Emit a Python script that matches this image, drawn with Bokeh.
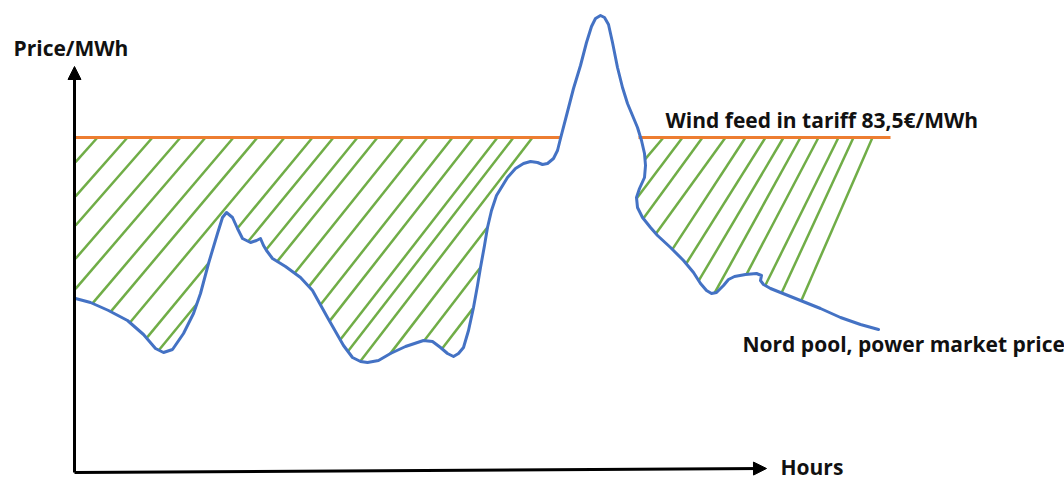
import numpy as np
from bokeh.plotting import figure
from bokeh.models import Range1d, Arrow, NormalHead, Label
from bokeh.embed import file_html
from bokeh.resources import INLINE

# ---------------- data (schematic, arbitrary hour units, €/MWh) ----------------
hours = [0, 15, 33, 52, 68, 80, 88, 97, 108, 118, 125, 133, 142, 147, 151, 157, 162, 167,
         175, 181, 185, 188, 191, 197, 210, 225, 237, 252, 268, 277, 285, 292, 303, 315,
         330, 348, 357, 365, 372, 378, 383, 388, 393, 398, 402, 405, 409, 412, 416, 421,
         432, 440, 448, 455, 462, 467, 472, 478, 482, 485, 491, 498, 505, 511, 516, 520,
         525, 529, 533, 537, 542, 547, 552, 557, 562, 566, 569, 570, 569, 564, 561, 562,
         567, 575, 582, 595, 608, 618, 625, 631, 636, 641, 648, 653, 659, 670, 681, 686,
         685, 688, 695, 710, 725, 745, 765, 785, 803]
price = [43.25, 42.25, 40.25, 37.75, 34.25, 30.75, 29.75, 30.5, 34.5, 39.5, 44.5, 52.0,
         59.5, 63.5, 64.75, 63.5, 60.75, 58.25, 57.25, 57.75, 58.25, 56.5, 55.25, 53.25,
         51.25, 48.5, 45.25, 38.5, 31.5, 28.5, 27.5, 27.25, 27.75, 29.5, 31.25, 32.75,
         32.5, 31.0, 29.5, 28.75, 29.5, 31.0, 35.25, 41.0, 46.5, 51.0, 56.5, 61.0, 65.25,
         69.0, 73.5, 75.75, 77.0, 77.5, 77.25, 76.75, 77.0, 78.25, 80.25, 83.25, 89.0,
         95.75, 101.5, 107.25, 111.25, 113.25, 114.0, 113.5, 111.75, 107.25, 101.0, 96.0,
         92.0, 89.0, 86.0, 82.75, 79.5, 76.5, 73.5, 70.75, 68.5, 66.0, 63.5, 61.0, 59.0,
         56.0, 52.75, 49.75, 47.0, 45.25, 44.5, 44.75, 46.5, 48.0, 48.75, 49.25, 49.5,
         49.0, 47.75, 46.75, 45.75, 44.25, 42.75, 40.75, 38.5, 36.75, 35.5]
TARIFF = 83.5
tariff_left_hours = [0, 485]
tariff_right_hours = [563, 815]

y_label = "Price/MWh"
x_label = "Hours"
tariff_label = "Wind feed in tariff 83,5€/MWh"
market_label = "Nord pool, power market price"

# ---------------- styles ----------------
BLUE = "#4472C4"
ORANGE = "#ED7D31"
GREEN = "#70AD47"
FONT = "Open Sans"
FSIZE = "21px"

# hand-drawn hatch: start offsets along the tariff line (hour units) and slopes (px down / px left)
HATCH_L_START = [22, 52, 77, 105, 130, 158, 182, 209, 237, 258, 282, 302, 328, 352, 377,
                 398, 422, 438, 457, 481, 505, 529, 553, 577]
HATCH_L_SLOPE = list(np.clip(1.12 + (np.array(HATCH_L_START) - 22) / 435 * 0.18, 1.12, 1.3))
HATCH_L_MAX = 460          # clip left family to this hour
HATCH_R_START = [588, 607, 627, 650, 670, 690, 708, 725, 743, 763, 778, 797]
HATCH_R_SLOPE = [1.18, 1.33, 1.37, 1.38, 1.53, 1.59, 1.69, 1.81, 1.9, 2.02, 2.16, 2.29]

W, H = 1064, 480
XR = (-75, 989)
YR = (-2.25, 117.75)
PX_T = W / (XR[1] - XR[0])
PX_P = H / (YR[1] - YR[0])

p = figure(width=W, height=H, x_range=Range1d(*XR), y_range=Range1d(*YR),
           output_backend="svg", toolbar_location=None, min_border=0,
           x_axis_type=None, y_axis_type=None, outline_line_color=None,
           background_fill_color="white", border_fill_color="white")
p.xgrid.visible = False
p.ygrid.visible = False

# ---------------- hatch (clip lines to region between tariff and price) ----------------
t_arr = np.array(hours, dtype=float)
p_arr = np.array(price, dtype=float)
poly_t = np.concatenate([t_arr, [t_arr[-1], t_arr[0]]])
poly_p = np.concatenate([p_arr, [YR[1] + 10, YR[1] + 10]])


def inside(tx, py):
    res = np.zeros(tx.shape, dtype=bool)
    n = len(poly_t)
    for i in range(n):
        j = i - 1
        ti, pi_, tj, pj = poly_t[i], poly_p[i], poly_t[j], poly_p[j]
        cond = (pi_ > py) != (pj > py)
        denom = (pj - pi_) if pj != pi_ else 1e-12
        xcross = (tj - ti) * (py - pi_) / denom + ti
        res ^= cond & (tx < xcross)
    return res


def hatch(starts, slopes, tmin, tmax):
    xs, ys = [], []
    s = np.arange(0, 500, 0.25)  # pixels moved leftward
    for t0, slope in zip(starts, slopes):
        tt = t0 - s / PX_T
        pp = TARIFF - s * slope / PX_P
        m = inside(tt, pp) & (pp <= TARIFF + 1e-9) & (tt >= tmin) & (tt <= tmax)
        edges = np.flatnonzero(np.diff(np.concatenate([[0], m.astype(int), [0]])))
        for a, b in zip(edges[::2], edges[1::2]):
            if b - 1 > a + 2:
                xs.append([tt[a], tt[b - 1]])
                ys.append([pp[a], pp[b - 1]])
    return xs, ys


hx1, hy1 = hatch(HATCH_L_START, HATCH_L_SLOPE, 0, HATCH_L_MAX)
hx2, hy2 = hatch(HATCH_R_START, HATCH_R_SLOPE, 540, 900)
p.multi_line(hx1 + hx2, hy1 + hy2, line_color=GREEN, line_width=2.5)

# ---------------- tariff + price curve ----------------
p.line(tariff_left_hours, [TARIFF, TARIFF], line_color=ORANGE, line_width=3)
p.line(tariff_right_hours, [TARIFF, TARIFF], line_color=ORANGE, line_width=3)
p.line(hours, price, line_color=BLUE, line_width=3, line_join="round", line_cap="round")

# ---------------- axes arrows ----------------
AX_T_END = 691
AX_P_END = 101.25
p.add_layout(Arrow(end=NormalHead(size=13, fill_color="black", line_color="black"),
                   x_start=-1, y_start=-0.25, x_end=-1, y_end=AX_P_END,
                   line_color="black", line_width=3))
p.add_layout(Arrow(end=NormalHead(size=13, fill_color="black", line_color="black"),
                   x_start=-1, y_start=-0.25, x_end=AX_T_END, y_end=0.75,
                   line_color="black", line_width=3))

# ---------------- labels ----------------
def lab(text, t, pr):
    p.add_layout(Label(x=t, y=pr, text=text, text_font=FONT, text_font_size=FSIZE,
                       text_font_style="bold", text_color="#111111",
                       text_align="left", text_baseline="middle"))

lab(y_label, -62, 106)
lab(tariff_label, 590, 88)
lab(market_label, 667, 32)
lab(x_label, 705, 1.25)

open("out.html", "w").write(file_html(p, INLINE))
